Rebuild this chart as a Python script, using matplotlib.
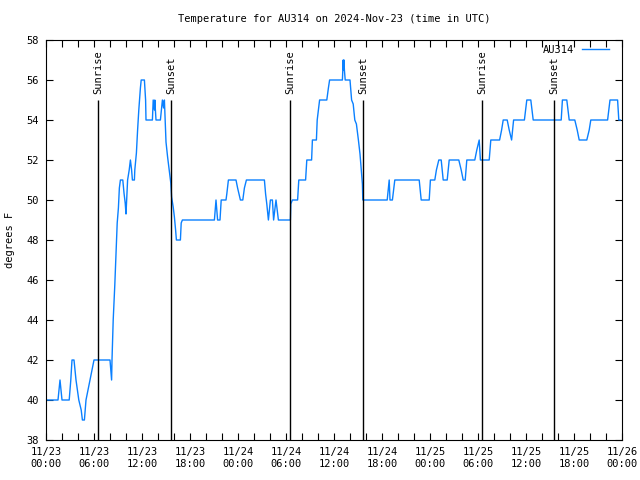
import matplotlib
matplotlib.use("Agg")
import matplotlib.pyplot as plt
from matplotlib.ticker import MultipleLocator

# hours since 2024-11-23 00:00 UTC, temperature in degrees F
hours = [0.0, 1.5, 1.75, 2.0, 2.9, 3.1, 3.25, 3.5, 3.75, 4.1, 4.4, 4.55, 4.8,
         5.0, 5.5, 5.75, 6.0, 8.0, 8.1, 8.2, 8.25,
         8.4, 8.6, 8.75, 8.9, 9.05, 9.17, 9.3, 9.6, 9.75, 9.9, 10.0, 10.1,
         10.2, 10.4, 10.55, 10.7, 10.8, 11.05, 11.1, 11.3, 11.45, 11.6, 11.8,
         11.9, 12.3, 12.45, 12.5, 13.3, 13.4, 13.55, 13.6, 13.75, 14.3, 14.55,
         14.7, 14.8, 14.9, 15.0, 15.2, 15.4, 15.6, 15.7, 15.9, 16.05, 16.2,
         16.3, 16.8, 16.9, 17.05,
         21.05, 21.25, 21.45, 21.75, 21.9, 22.5, 22.6, 22.8, 23.75, 23.95,
         24.3, 24.6, 24.8, 25.05, 27.3, 27.45, 27.6, 27.8, 28.05, 28.3, 28.45,
         28.75, 29.05, 30.55,
         30.6, 30.8, 31.45, 31.6, 32.45, 32.6, 33.2, 33.3, 33.8, 33.9, 34.2,
         35.1, 35.3, 35.45, 37.05, 37.15, 37.2, 37.25, 37.3, 37.4, 38.0, 38.2,
         38.4, 38.6, 38.8, 39.05, 39.25, 39.45, 39.55, 39.6,
         42.65, 42.9, 43.0, 43.3, 43.6, 46.65, 46.9, 47.9, 48.05, 48.6, 48.8,
         49.1, 49.4, 49.65, 50.15, 50.4, 51.6, 51.9, 52.15, 52.4, 52.6, 53.6,
         53.85, 54.15, 54.3, 54.45,
         55.4, 55.6, 56.7, 56.95, 57.15, 57.65, 57.9, 58.2, 58.45, 59.8, 60.1,
         60.6, 60.9, 64.4, 64.55, 65.1, 65.4, 66.1, 66.4, 66.65, 67.6, 67.9,
         68.1, 70.2, 70.5, 71.45, 71.6, 71.8]
temps = [40, 40, 41, 40, 40, 41, 42, 42, 41, 40, 39.5, 39, 39,
         40, 41, 41.5, 42, 42, 41.5, 41, 42,
         44, 45.75, 47.25, 48.85, 49.6, 50.6, 51, 51, 50.35, 49.85, 49.3, 50.15,
         51, 51.5, 52, 51.5, 51, 51, 51.5, 52.35, 53.5, 54.5, 55.6,
         56, 56, 55, 54, 54, 55, 54.5, 55, 54, 54, 55,
         54.6, 55, 54, 52.9, 52.15, 51.5, 50.85, 50.15, 49.65, 49.15, 48.5,
         48, 48, 48.85, 49,
         49, 50, 49, 49, 50, 50, 50.3, 51, 51, 50.6,
         50, 50, 50.6, 51, 51, 50.3, 49.8, 49, 50, 50, 49,
         50, 49, 49,
         49.8, 50, 50, 51, 51, 52, 52, 53, 53, 54, 55,
         55, 55.6, 56, 56, 57, 56.5, 57, 56.5, 56, 56, 55,
         54.8, 54, 53.8, 53, 52.3, 51.3, 50.8, 50,
         50, 51, 50, 50, 51, 51, 50, 50, 51, 51, 51.5,
         52, 52, 51, 51, 52, 52, 51.5, 51, 51, 52, 52,
         52.5, 53, 52, 52,
         52, 53, 53, 53.5, 54, 54, 53.5, 53, 54, 54, 55,
         55, 54, 54, 55, 55, 54, 54, 53.5, 53, 53, 53.5,
         54, 54, 55, 55, 54, 54]

sunrise = [6.5, 30.5, 54.5]
sunset = [15.6, 39.6, 63.5]

tick_hours = list(range(0, 73, 6))
tick_labels = ["11/23\n00:00", "11/23\n06:00", "11/23\n12:00", "11/23\n18:00",
               "11/24\n00:00", "11/24\n06:00", "11/24\n12:00", "11/24\n18:00",
               "11/25\n00:00", "11/25\n06:00", "11/25\n12:00", "11/25\n18:00",
               "11/26\n00:00"]

plt.rcParams['font.family'] = ['DejaVu Sans Mono']
plt.rcParams['font.size'] = 7.5

fig = plt.figure(figsize=(6.4, 4.8), dpi=100)
ax = fig.add_axes([46 / 640, 40 / 480, 576 / 640, 400 / 480])

ax.plot(hours, temps, color='#0a80ff', lw=1.0, label='AU314')

for x in sunrise:
    ax.vlines(x, 38, 55, color='black', lw=1.0)
    ax.text(x, 55.3, 'Sunrise', rotation=90, ha='center', va='bottom')
for x in sunset:
    ax.vlines(x, 38, 55, color='black', lw=1.0)
    ax.text(x, 55.3, 'Sunset', rotation=90, ha='center', va='bottom')

ax.set_xlim(0, 72)
ax.set_ylim(38, 58)
ax.set_xticks(tick_hours)
ax.set_xticklabels(tick_labels)
ax.xaxis.set_minor_locator(MultipleLocator(2))
ax.yaxis.set_major_locator(MultipleLocator(2))
ax.tick_params(which='both', direction='in', top=True, right=True,
               length=5, width=0.8, pad=5)

ax.set_title('Temperature for AU314 on 2024-Nov-23 (time in UTC)',
             fontsize=7.5, pad=13)
ax.set_ylabel('degrees F', labelpad=8)

leg = ax.legend(loc='upper right', frameon=False, markerfirst=False,
                handlelength=2.6, borderaxespad=0.15, borderpad=0.3,
                handletextpad=0.7, bbox_to_anchor=(0.985, 1.0))

fig.savefig('out.png', dpi=100)
